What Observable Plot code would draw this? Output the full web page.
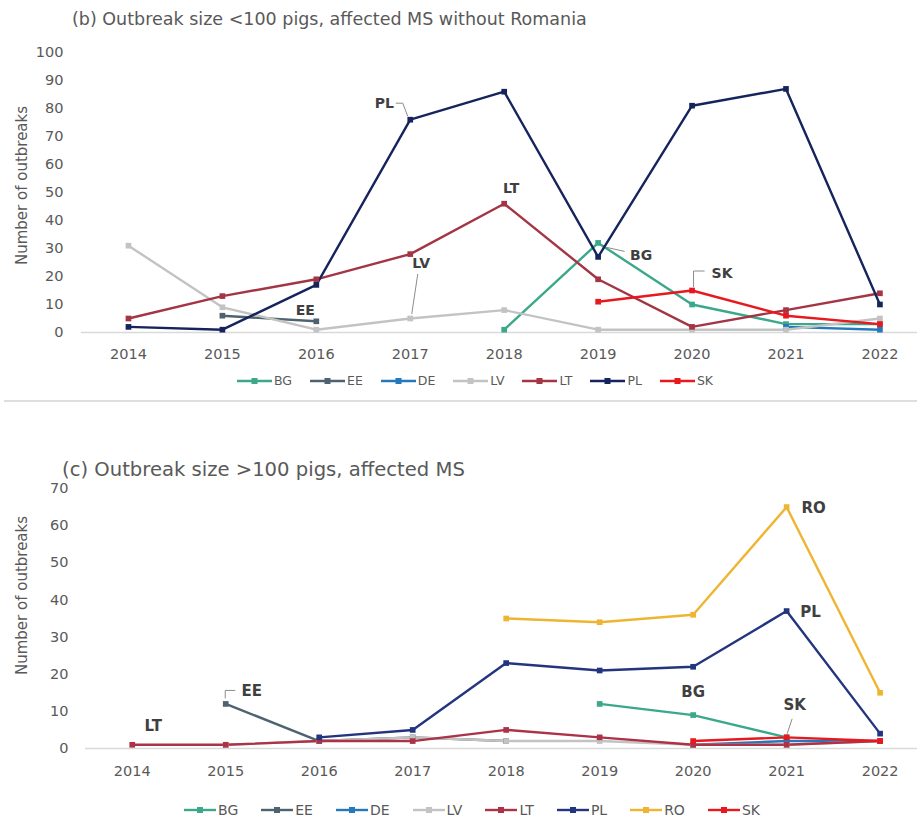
<!DOCTYPE html>
<html><head><meta charset="utf-8">
<script src="https://cdn.jsdelivr.net/npm/d3@7"></script>
<script src="https://cdn.jsdelivr.net/npm/@observablehq/plot@0.6"></script>
<style>
body{margin:0;background:#fff;font-family:"DejaVu Sans",Verdana,sans-serif;color:#595959}
#wrap{position:relative;width:917px;height:832px;overflow:hidden;background:#fff}
.title{position:absolute;white-space:nowrap;color:#595959;line-height:1}
.panel{position:absolute;left:0}
.legend{position:absolute;left:0;display:flex;justify-content:center;align-items:center;color:#595959;line-height:1}
.legend .item{display:flex;align-items:center}
.legend svg{margin-right:2px}
.sep{position:absolute;left:4px;right:0;top:400px;height:2px;background:#dedede}
</style></head>
<body><div id="wrap">
<div class="title" id="titleB" style="left:72px;top:11px;font-size:17.5px">(b) Outbreak size &lt;100 pigs, affected MS without Romania</div>
<div class="panel" id="chartB" style="top:38px"></div>
<div class="legend" id="legendB" style="top:375px;width:950px;font-size:12.5px"></div>
<div class="sep"></div>
<div class="title" id="titleC" style="left:62px;top:460px;font-size:19.6px">(c) Outbreak size &gt;100 pigs, affected MS</div>
<div class="panel" id="chartC" style="top:475px"></div>
<div class="legend" id="legendC" style="top:803px;width:944px;font-size:14px"></div>
</div>
<script>
const years = [2014, 2015, 2016, 2017, 2018, 2019, 2020, 2021, 2022];
const countriesB = ["BG", "EE", "DE", "LV", "LT", "PL", "SK"];
const countriesC = ["BG", "EE", "DE", "LV", "LT", "PL", "RO", "SK"];
const paletteB = {BG: "#3BA88B", EE: "#4E636F", DE: "#2479BD", LV: "#C3C3C3", LT: "#A33545", PL: "#15245C", SK: "#E8191E"};
const paletteC = {BG: "#3BA88B", EE: "#4E636F", DE: "#2479BD", LV: "#C3C3C3", LT: "#AC3247", PL: "#23357F", RO: "#EFB532", SK: "#E8191E"};

// (b) outbreak size <100 pigs
const bBG = [null, null, null, null, 1, 32, 10, 3, 3];
const bEE = [null, 6, 4, null, null, null, null, null, null];
const bDE = [null, null, null, null, null, null, null, 2, 1];
const bLV = [31, 9, 1, 5, 8, 1, 1, 1, 5];
const bLT = [5, 13, 19, 28, 46, 19, 2, 8, 14];
const bPL = [2, 1, 17, 76, 86, 27, 81, 87, 10];
const bSK = [null, null, null, null, null, 11, 15, 6, 3];

// (c) outbreak size >100 pigs
const cBG = [null, null, null, null, null, 12, 9, 3, null];
const cEE = [null, 12, 2, 3, 2, null, null, null, null];
const cDE = [null, null, null, null, null, null, 1, 2, 2];
const cLV = [null, 1, 2, 3, 2, 2, 1, 1, 2];
const cLT = [1, 1, 2, 2, 5, 3, 1, 1, 2];
const cPL = [null, null, 3, 5, 23, 21, 22, 37, 4];
const cRO = [null, null, null, null, 35, 34, 36, 65, 15];
const cSK = [null, null, null, null, null, null, 2, 3, 2];

const yTicksB = [0, 10, 20, 30, 40, 50, 60, 70, 80, 90, 100];
const yTicksC = [0, 10, 20, 30, 40, 50, 60, 70];
const yLabel = "Number of outbreaks";

function rows(countries, arrays) {
  const out = [];
  countries.forEach((c, k) => arrays[k].forEach((v, i) => out.push({country: c, year: years[i], value: v})));
  return out;
}
const dataB = rows(countriesB, [bBG, bEE, bDE, bLV, bLT, bPL, bSK]);
const dataC = rows(countriesC, [cBG, cEE, cDE, cLV, cLT, cPL, cRO, cSK]);

// annotations: country label at a given year, with pixel offsets and optional leader path
const notesB = [
  {country: "PL", year: 2017, dx: -26, dy: -16, leader: [[-14, -16], [-7, -16], [-2, -3]]},
  {country: "LT", year: 2018, dx: 7, dy: -15},
  {country: "LV", year: 2017, dx: 11, dy: -55, leader: [[8, -44], [2, -4]]},
  {country: "EE", year: 2016, dx: -11, dy: -11},
  {country: "BG", year: 2019, dx: 43, dy: 13, leader: [[9, 5], [27, 9]]},
  {country: "SK", year: 2020, dx: 30, dy: -17, leader: [[2, -3], [2, -19], [13, -19]]}
];
const notesC = [
  {country: "LT", year: 2014, dx: 21, dy: -19},
  {country: "EE", year: 2015, dx: 26, dy: -13, leader: [[0, -5], [0, -13], [10, -13]]},
  {country: "RO", year: 2021, dx: 27, dy: 1},
  {country: "PL", year: 2021, dx: 24, dy: 1},
  {country: "BG", year: 2020, dx: 0, dy: -23},
  {country: "SK", year: 2021, dx: 8, dy: -32, leader: [[1, -3], [6, -18]]}
];

function build(el, data, countries, palette, notes, cfg) {
  const pts = data.filter(d => d.value != null);
  const marks = [
    Plot.ruleY([0], {stroke: "#d9d9d9", strokeWidth: 1.5}),
    Plot.axisX({ticks: years, tickFormat: d => String(d), tickSize: 0, tickPadding: cfg.xPad, label: null, fontSize: 14.5, fill: "#595959"}),
    Plot.axisY({ticks: cfg.yTicks, tickSize: 0, tickPadding: cfg.yPad, label: null, fontSize: 14.5, fill: "#595959"}),
    Plot.text([yLabel], {frameAnchor: "left", rotate: -90, textAnchor: "middle", lineAnchor: "middle", text: d => d, dx: cfg.labelDx, dy: cfg.labelDy, fontSize: 15, fill: "#595959"}),
    Plot.line(data, {x: "year", y: "value", z: "country", stroke: "country", strokeWidth: 2.4, strokeLinejoin: "round"}),
    Plot.dot(pts, {x: "year", y: "value", fill: "country", symbol: "square", r: 3.2})
  ];
  notes.forEach(n => {
    const p = pts.find(d => d.country === n.country && d.year === n.year);
    marks.push(Plot.text([p], {x: "year", y: "value", text: "country", dx: n.dx, dy: n.dy, fontWeight: "bold", fontSize: cfg.noteSize, fill: "#404040"}));
  });
  const chart = Plot.plot({
    width: 917, height: cfg.height,
    marginLeft: cfg.ml, marginRight: 0, marginTop: cfg.mt, marginBottom: cfg.mb,
    x: {type: "linear", domain: [2013.5, 2022.4]},
    y: {domain: cfg.yDomain},
    color: {domain: countries, range: countries.map(c => palette[c])},
    style: {fontFamily: "'DejaVu Sans', Verdana, sans-serif", color: "#595959", background: "transparent", overflow: "visible"},
    marks
  });
  const sx = chart.scale("x"), sy = chart.scale("y");
  const svg = d3.select(chart);
  notes.filter(n => n.leader).forEach(n => {
    const p = pts.find(d => d.country === n.country && d.year === n.year);
    const px = sx.apply(p.year), py = sy.apply(p.value);
    svg.append("path")
      .attr("d", d3.line()(n.leader.map(([a, b]) => [px + a, py + b])))
      .attr("fill", "none").attr("stroke", "#8c8c8c").attr("stroke-width", 1);
  });
  document.getElementById(el).appendChild(chart);
}

build("chartB", dataB, countriesB, paletteB, notesB, {height: 335, ml: 81, mt: 14, mb: 41, yDomain: [0, 100], yTicks: yTicksB, xPad: 16, yPad: 18, labelDx: -59, labelDy: -7, noteSize: 14});
build("chartC", dataC, countriesC, paletteC, notesC, {height: 320, ml: 85, mt: 13, mb: 47, yDomain: [0, 70], yTicks: yTicksC, xPad: 17, yPad: 17, labelDx: -63, labelDy: -23, noteSize: 15});

function legend(el, countries, palette, cfg) {
  const box = d3.select("#" + el);
  countries.forEach((c, i) => {
    const it = box.append("div").attr("class", "item").style("margin-left", i ? cfg.gap + "px" : "0px");
    const s = it.append("svg").attr("width", cfg.w).attr("height", 10);
    s.append("line").attr("x1", 0).attr("x2", cfg.w).attr("y1", 5).attr("y2", 5).attr("stroke", palette[c]).attr("stroke-width", 2.4);
    s.append("rect").attr("x", cfg.w / 2 - 3).attr("y", 2).attr("width", 6).attr("height", 6).attr("fill", palette[c]);
    it.append("span").text(c);
  });
}
legend("legendB", countriesB, paletteB, {w: 35, gap: 18});
legend("legendC", countriesC, paletteC, {w: 32, gap: 23});
</script>
</body></html>
